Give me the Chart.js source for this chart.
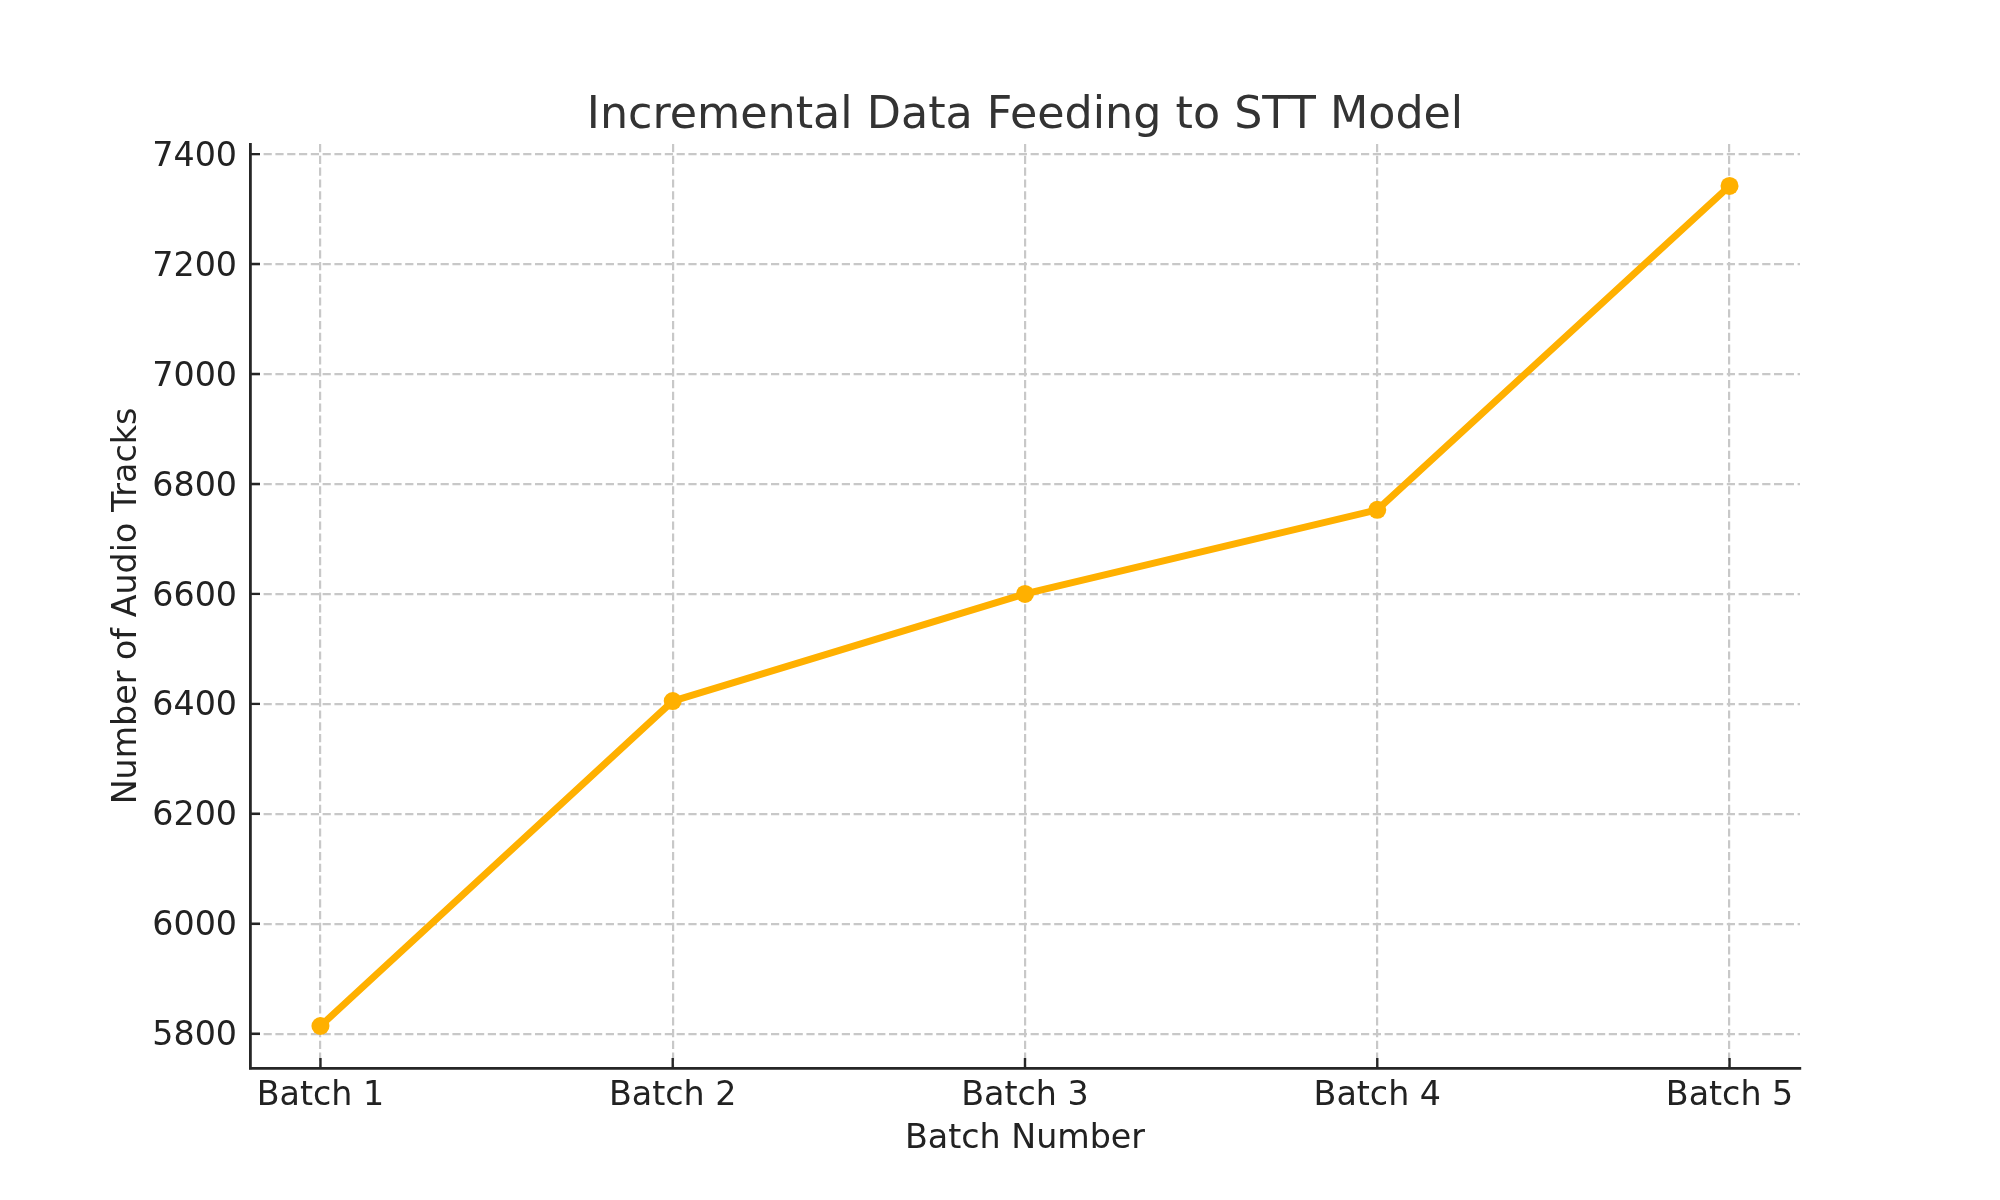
<!DOCTYPE html>
<html>
<head>
<meta charset="utf-8">
<script src="https://cdn.jsdelivr.net/npm/chart.js@4"></script>
<style>
  html, body { margin: 0; padding: 0; background: #ffffff; }
  #wrap { width: 2000px; height: 1200px; }
</style>
</head>
<body>
<div id="wrap"><canvas id="c" width="2000" height="1200"></canvas></div>
<script>
// ---- data ----
const categories = ["Batch 1", "Batch 2", "Batch 3", "Batch 4", "Batch 5"];
const audioTracks = [5814, 6405, 6600, 6753, 7342];
const yTickValues = [5800, 6000, 6200, 6400, 6600, 6800, 7000, 7200, 7400];

const titleText = "Incremental Data Feeding to STT Model";
const xTitleText = "Batch Number";
const yTitleText = "Number of Audio Tracks";

// ---- styles ----
const FONT = "'DejaVu Sans', sans-serif";
const lineColor = "#FFB000";
const axisColor = "#262626";
const gridColor = "#c8c8c8";

// matplotlib-like 5% margins
const dMin = Math.min(...audioTracks), dMax = Math.max(...audioTracks);
const yPad = (dMax - dMin) * 0.05;
const xPad = (categories.length - 1) * 0.05;

const points = audioTracks.map((v, i) => ({ x: i, y: v }));

const inwardTicks = {
  id: 'inwardTicks',
  afterDatasetsDraw(chart) {
    const { ctx, scales: { x, y } } = chart;
    ctx.save();
    ctx.strokeStyle = axisColor;
    ctx.lineWidth = 2.4;
    ctx.beginPath();
    yTickValues.forEach(v => {
      const py = y.getPixelForValue(v);
      ctx.moveTo(x.left, py);
      ctx.lineTo(x.left + 10, py);
    });
    categories.forEach((c, i) => {
      const px = x.getPixelForValue(i);
      ctx.moveTo(px, y.bottom);
      ctx.lineTo(px, y.bottom - 10);
    });
    ctx.stroke();
    ctx.restore();
  }
};

new Chart(document.getElementById('c'), {
  type: 'line',
  data: {
    datasets: [{
      data: points,
      borderColor: lineColor,
      backgroundColor: lineColor,
      borderWidth: 7,
      pointRadius: 9,
      pointBorderWidth: 0,
      pointBackgroundColor: lineColor,
      pointHoverRadius: 9,
      tension: 0,
      fill: false
    }]
  },
  plugins: [inwardTicks],
  options: {
    responsive: false,
    devicePixelRatio: 1,
    animation: false,
    events: [],
    layout: { padding: { left: 0, right: 200, top: 0, bottom: 0 } },
    plugins: {
      legend: { display: false },
      tooltip: { enabled: false },
      title: {
        display: true,
        fullSize: false,
        text: titleText,
        color: '#333333',
        font: { family: FONT, size: 44.4, weight: 'normal' },
        padding: { top: 89.7, bottom: 1.0 }
      }
    },
    scales: {
      x: {
        type: 'linear',
        position: 'bottom',
        min: -xPad,
        max: (categories.length - 1) + xPad,
        afterBuildTicks: (scale) => { scale.ticks = categories.map((c, i) => ({ value: i })); },
        afterFit: (scale) => { scale.height = 132; },
        ticks: {
          autoSkip: false,
          maxRotation: 0,
          minRotation: 0,
          padding: 8,
          color: '#222222',
          font: { family: FONT, size: 33.3 },
          callback: (v) => categories[v]
        },
        grid: {
          display: true,
          drawTicks: false,
          color: gridColor,
          lineWidth: 2.2
        },
        border: { display: true, color: axisColor, width: 2.8, dash: [8.2, 3.6] },
        title: {
          display: true,
          text: xTitleText,
          color: '#222222',
          font: { family: FONT, size: 33.3 },
          padding: { top: 0, bottom: 40.7 }
        }
      },
      y: {
        type: 'linear',
        position: 'left',
        min: dMin - yPad,
        max: dMax + yPad,
        afterBuildTicks: (scale) => { scale.ticks = yTickValues.map(v => ({ value: v })); },
        afterFit: (scale) => { scale.width = 250; },
        ticks: {
          padding: 13,
          labelOffset: 3,
          color: '#222222',
          font: { family: FONT, size: 33.3 },
          callback: (v) => String(v)
        },
        grid: {
          display: true,
          drawTicks: false,
          color: gridColor,
          lineWidth: 2.2
        },
        border: { display: true, color: axisColor, width: 2.8, dash: [8.2, 3.6] },
        title: {
          display: true,
          text: yTitleText,
          color: '#222222',
          font: { family: FONT, size: 33.3 },
          padding: { top: 107, bottom: 0 }
        }
      }
    }
  }
});
</script>
</body>
</html>
